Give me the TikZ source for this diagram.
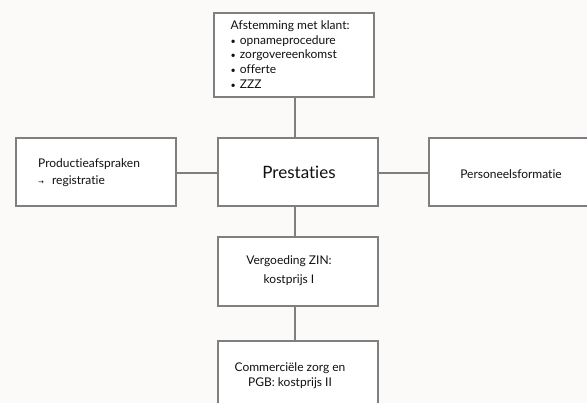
\documentclass[tikz,border=0pt]{standalone}
\usepackage{fontspec}
\setmainfont[Ligatures=NoCommon]{Lato}
\newfontfamily\arrowfont{DejaVu Sans}
\definecolor{bgc}{HTML}{FBFAF8}
\definecolor{edgec}{HTML}{7F7F7F}
\definecolor{txtc}{HTML}{111111}
\newcommand{\blt}{{\fontsize{9}{9}\selectfont\textbullet}\hspace{4pt}}
\begin{document}
\begin{tikzpicture}[x=1pt,y=-1pt,
  box/.style={draw=edgec,line width=1.3pt,fill=white},
  link/.style={draw=edgec,line width=2.6pt},
  lbl/.style={inner sep=0pt,text=txtc,font=\fontsize{12}{14.7}\selectfont}
]
\fill[bgc] (0,0) rectangle (587,403);
\useasboundingbox (0,0) rectangle (587,403);
% boxes
\draw[box] (214,13) rectangle (374,97);
\draw[box] (218,138) rectangle (378,206);
\draw[box] (16,138) rectangle (176,206);
\fill[white] (429,138) rectangle (587,206);
\draw[box] (587,138) -- (429,138) -- (429,206) -- (587,206);
\draw[box] (218,237) rectangle (378,306);
\fill[white] (218,341) rectangle (378,403);
\draw[box] (218,403) -- (218,341) -- (378,341) -- (378,403);
% named anchor coordinates
\coordinate (top) at (295,97);
\coordinate (ctop) at (295,138);
\coordinate (cbot) at (295,206);
\coordinate (cleft) at (218,173);
\coordinate (cright) at (378,173);
\coordinate (ltr) at (176,173);
\coordinate (rtl) at (429,173);
\coordinate (mtop) at (295,237);
\coordinate (mbot) at (295,306);
\coordinate (btop) at (295,341);
\draw[link] (top) -- (ctop);
\draw[link] (ltr) -- (cleft);
\draw[link] (cright) -- (rtl);
\draw[link] (cbot) -- (mtop);
\draw[link] (mbot) -- (btop);
% texts
\node[lbl,anchor=north west,align=left] (topt) at (230.5,20.5) {Afstemming met klant:\\
\blt opnameprocedure\\
\blt zorgovereenkomst\\
\blt offerte\\
\blt ZZZ};
\node[lbl,font=\fontsize{17}{20}\selectfont] (prest) at (299,172) {Prestaties};
\node[lbl,anchor=west,align=left,font=\fontsize{12}{17}\selectfont] (prod) at (38,173) {Productieafspraken\\
{\arrowfont\fontsize{7}{7}\selectfont →}\hspace{8pt}registratie};
\node[lbl] (pers) at (511,174) {Personeelsformatie};
\node[lbl,align=center,font=\fontsize{12}{19}\selectfont] (verg) at (289,271) {Vergoeding ZIN:\\kostprijs I};
\node[lbl,align=center,font=\fontsize{12}{15}\selectfont] (comm) at (290,376) {Commerciële zorg en\\PGB: kostprijs II};
\end{tikzpicture}
\end{document}
